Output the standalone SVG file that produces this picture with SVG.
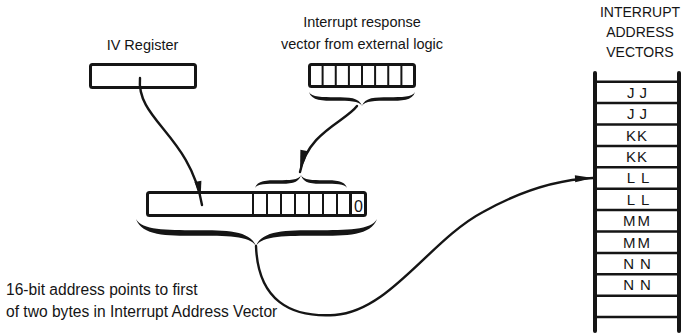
<svg xmlns="http://www.w3.org/2000/svg" width="684" height="336" viewBox="0 0 684 336">
<style>
  .t{font-family:"Liberation Sans",Arial,sans-serif;fill:#151515}
  .box{fill:#fff;stroke:#151515;stroke-width:3}
  .cell{stroke:#151515;stroke-width:2}
  .brace{fill:#151515}
  .conn{fill:none;stroke:#151515;stroke-width:2.4;stroke-linecap:round}
  .vline{stroke:#151515;stroke-width:4;stroke-linecap:round}
  .hline{stroke:#151515;stroke-width:2.5}
  .lbl{font-size:15px}
</style>
<defs>
  <marker id="ahA" markerUnits="userSpaceOnUse" markerWidth="26" markerHeight="8" refX="24" refY="3.5" orient="auto" overflow="visible">
    <path d="M0,0 L16,3.5 L0,7 z" fill="#151515"/>
  </marker>
  <marker id="ahB" markerUnits="userSpaceOnUse" markerWidth="22" markerHeight="8" refX="22" refY="4" orient="auto" overflow="visible">
    <path d="M0,0 L22,4 L0,8 z" fill="#151515"/>
  </marker>
  <marker id="ahC" markerUnits="userSpaceOnUse" markerWidth="18" markerHeight="8" refX="18" refY="3.5" orient="auto" overflow="visible">
    <path d="M0,0 L18,3.5 L0,7 z" fill="#151515"/>
  </marker>
</defs>
<rect width="684" height="336" fill="#fff"/>

<g id="iv-register">
  <text class="t" x="142.5" y="50" font-size="14.5" text-anchor="middle">IV Register</text>
  <rect class="box" x="90.5" y="64.5" width="105" height="23" rx="2"/>
</g>

<g id="response-vector">
  <text class="t" x="362" y="27" font-size="14.5" text-anchor="middle">Interrupt response</text>
  <text class="t" x="362" y="49" font-size="14.5" text-anchor="middle">vector from external logic</text>
  <rect class="box" x="309.5" y="64.5" width="105" height="22" rx="2"/>
  <g class="cell">
    <line x1="322.6" y1="65" x2="322.6" y2="86"/>
    <line x1="335.75" y1="65" x2="335.75" y2="86"/>
    <line x1="348.9" y1="65" x2="348.9" y2="86"/>
    <line x1="362" y1="65" x2="362" y2="86"/>
    <line x1="375.1" y1="65" x2="375.1" y2="86"/>
    <line x1="388.25" y1="65" x2="388.25" y2="86"/>
    <line x1="401.4" y1="65" x2="401.4" y2="86"/>
  </g>
  <path class="brace" d="M309,92 C311.7,97.2 322.3,97.2 335.5,97.2 C348.8,97.2 359.4,97.2 362,106 C364.6,97.2 375.3,97.2 388.5,97.2 C401.8,97.2 412.4,97.2 415,92 C412.4,100.8 401.8,100.8 388.5,100.8 C375.3,100.8 364.6,100.8 362,106 C359.4,100.8 348.8,100.8 335.5,100.8 C322.3,100.8 311.7,100.8 309,92 Z"/>
</g>

<g id="address-register">
  <rect class="box" x="147.5" y="192.5" width="218" height="23" rx="2"/>
  <g class="cell">
    <line x1="253" y1="193" x2="253" y2="215"/>
    <line x1="267" y1="193" x2="267" y2="215"/>
    <line x1="281" y1="193" x2="281" y2="215"/>
    <line x1="295" y1="193" x2="295" y2="215"/>
    <line x1="309" y1="193" x2="309" y2="215"/>
    <line x1="323" y1="193" x2="323" y2="215"/>
    <line x1="337" y1="193" x2="337" y2="215"/>
    <line x1="350.5" y1="193" x2="350.5" y2="215" stroke-width="3"/>
  </g>
  <text class="t" x="358.5" y="212" font-size="16" text-anchor="middle">0</text>
  <path class="brace" d="M255,188 C257.3,180.2 266.5,180.2 278,180.2 C289.5,180.2 298.7,180.2 301,175 C303.3,180.2 312.5,180.2 324,180.2 C335.5,180.2 344.7,180.2 347,188 C344.7,183.8 335.5,183.8 324,183.8 C312.5,183.8 303.3,183.8 301,175 C298.7,183.8 289.5,183.8 278,183.8 C266.5,183.8 257.3,183.8 255,188 Z"/>
  <path class="brace" d="M136,219 C142,230.2 166,230.2 196,230.2 C226,230.2 250,230.2 256,246 C262,230.2 286.3,230.2 316.5,230.2 C346.8,230.2 371,230.2 377,219 C371,235.8 346.8,235.8 316.5,235.8 C286.3,235.8 262,235.8 256,246 C250,235.8 226,235.8 196,235.8 C166,235.8 142,235.8 136,219 Z"/>
</g>

<g id="note">
  <text class="t" x="6" y="295" font-size="15.6">16-bit address points to first</text>
  <text class="t" x="6" y="317" font-size="15.6">of two bytes in Interrupt Address Vector</text>
</g>

<g id="vector-table">
  <text class="t" x="640" y="17" font-size="14" text-anchor="middle">INTERRUPT</text>
  <text class="t" x="640" y="37" font-size="14" text-anchor="middle">ADDRESS</text>
  <text class="t" x="640" y="57" font-size="14" text-anchor="middle">VECTORS</text>
  <line class="vline" x1="595" y1="73" x2="595" y2="331"/>
  <line class="vline" x1="679" y1="73" x2="679" y2="331"/>
  <g class="hline">
    <line x1="595" y1="81.7" x2="679" y2="81.7"/>
    <line x1="595" y1="103.1" x2="679" y2="103.1"/>
    <line x1="595" y1="124.5" x2="679" y2="124.5"/>
    <line x1="595" y1="145.9" x2="679" y2="145.9"/>
    <line x1="595" y1="167.3" x2="679" y2="167.3"/>
    <line x1="595" y1="188.7" x2="679" y2="188.7"/>
    <line x1="595" y1="210.1" x2="679" y2="210.1"/>
    <line x1="595" y1="231.5" x2="679" y2="231.5"/>
    <line x1="595" y1="252.9" x2="679" y2="252.9"/>
    <line x1="595" y1="274.3" x2="679" y2="274.3"/>
    <line x1="595" y1="295.7" x2="679" y2="295.7"/>
    <line x1="595" y1="317.1" x2="679" y2="317.1"/>
  </g>
  <text class="t lbl" x="639.5" y="97.8" text-anchor="middle" letter-spacing="5">JJ</text>
  <text class="t lbl" x="639.5" y="119.2" text-anchor="middle" letter-spacing="5">JJ</text>
  <text class="t lbl" x="637" y="140.6" text-anchor="middle" letter-spacing="1">KK</text>
  <text class="t lbl" x="637" y="162" text-anchor="middle" letter-spacing="1">KK</text>
  <text class="t lbl" x="641" y="183.4" text-anchor="middle" letter-spacing="6">LL</text>
  <text class="t lbl" x="641" y="204.8" text-anchor="middle" letter-spacing="6">LL</text>
  <text class="t lbl" x="637.5" y="226.2" text-anchor="middle" letter-spacing="2">MM</text>
  <text class="t lbl" x="637.5" y="247.6" text-anchor="middle" letter-spacing="2">MM</text>
  <text class="t lbl" x="640" y="269" text-anchor="middle" letter-spacing="6">NN</text>
  <text class="t lbl" x="640" y="290.4" text-anchor="middle" letter-spacing="6">NN</text>
</g>

<g id="connectors">
  <path class="conn" d="M140,78 C136,120 190,135 202,205" marker-end="url(#ahA)"/>
  <path class="conn" d="M357,106 C345,122 308,132 300,172" marker-end="url(#ahB)"/>
  <path class="conn" d="M256,246 C258,300 290,318 335,315 C390,311 430,240 483,212 C515,194 550,180 593,178" marker-end="url(#ahC)"/>
</g>
</svg>
